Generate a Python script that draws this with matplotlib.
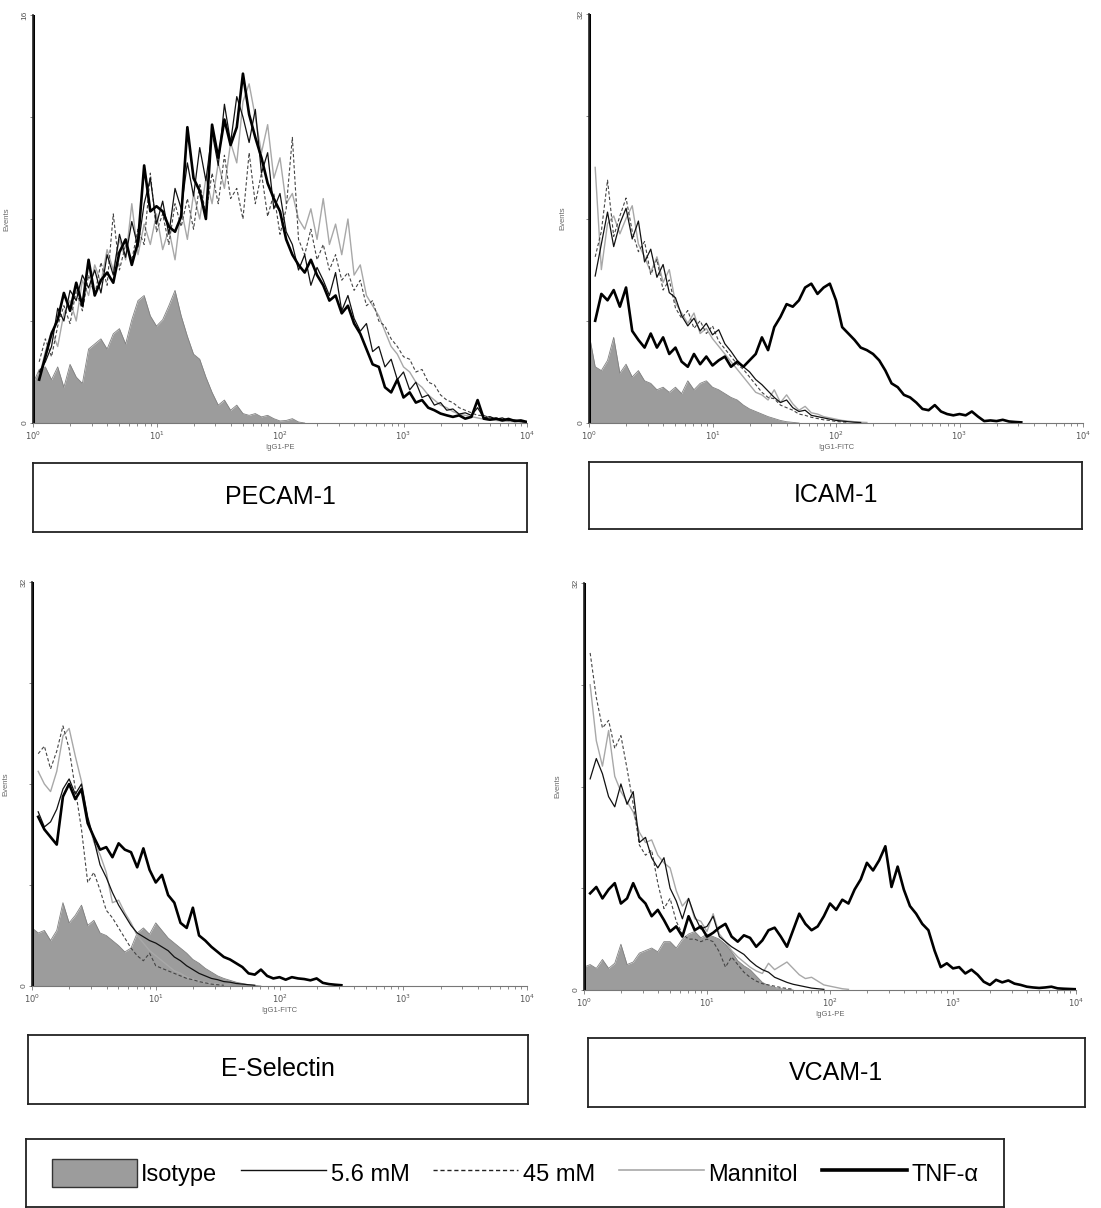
import numpy as np
import matplotlib.pyplot as plt
from matplotlib.patches import Patch
from matplotlib.lines import Line2D

plt.rcParams['font.family'] = ['Liberation Sans', 'DejaVu Sans']

W, H = 1101, 1208
STEP = 0.05  # width of one channel group in log10 units, first group at 10^0

markers = ['PECAM-1', 'ICAM-1', 'E-Selectin', 'VCAM-1']
x_titles = ['IgG1-PE', 'IgG1-FITC', 'IgG1-FITC', 'IgG1-PE']
y_tops = [16, 32, 32, 32]
legend_names = ['Isotype', '5.6 mM', '45 mM', 'Mannitol', 'TNF-\u03b1']

# events per channel group
pecam_iso = [1.55, 2.1, 2.2, 1.7, 2.2, 1.4, 2.3, 1.8, 1.55, 2.9, 3.1, 3.3, 2.9, 3.5, 3.7,
             3.1, 4.05, 4.8, 5.0, 4.2, 3.8, 4.05, 4.6, 5.2, 4.2, 3.4, 2.7, 2.5, 1.8, 1.2,
             0.7, 0.9, 0.5, 0.7, 0.37, 0.3, 0.37, 0.24, 0.3, 0.17, 0.08, 0.1, 0.17, 0.04, 0.0]
pecam_56 = [16, 2.0, 2.4, 3.0, 4.5, 4.0, 5.2, 4.8, 5.8, 5.3, 6.0, 5.1, 6.6, 5.8, 7.4, 6.5,
            7.9, 6.9, 8.6, 9.6, 7.8, 8.7, 7.4, 9.2, 8.4, 10.2, 8.9, 10.8, 9.5, 11.4, 10.1,
            12.5, 11.0, 12.8, 12.0, 11.0, 12.3, 9.8, 10.6, 8.4, 9.0, 7.5, 7.0, 6.0, 6.6,
            5.4, 6.1, 5.6, 5.0, 5.9, 4.4, 5.0, 4.1, 3.6, 3.9, 2.8, 3.0, 2.2, 2.5, 1.7, 2.0,
            1.3, 1.6, 1.0, 1.1, 0.7, 0.8, 0.5, 0.55, 0.35, 0.4, 0.3, 0.6, 0.2, 0.25, 0.15,
            0.2, 0.1, 0.12, 0.05, 0.05]
pecam_45 = [16, 2.4, 3.3, 2.6, 3.8, 4.6, 3.9, 5.2, 4.4, 5.8, 5.0, 6.3, 5.4, 8.2, 6.0, 7.0,
            6.4, 7.6, 7.0, 9.8, 7.5, 8.2, 7.0, 8.6, 7.7, 8.8, 7.6, 9.4, 8.2, 9.8, 8.6, 10.5,
            8.8, 9.2, 8.0, 10.6, 8.6, 9.8, 8.1, 9.0, 7.4, 8.4, 11.2, 7.2, 6.6, 7.6, 6.4, 7.0,
            6.0, 6.6, 5.6, 5.9, 5.2, 5.6, 4.6, 4.8, 4.0, 3.8, 3.3, 3.0, 2.6, 2.5, 2.0, 2.1,
            1.6, 1.5, 1.1, 0.9, 0.8, 0.6, 0.5, 0.4, 0.3, 0.3, 0.2, 0.2, 0.15, 0.1, 0.08,
            0.05, 0.03]
pecam_man = [16, 1.8, 2.8, 3.6, 3.0, 4.3, 4.8, 4.0, 5.6, 5.0, 6.2, 5.5, 6.8, 6.0, 7.2, 6.4,
             8.6, 6.6, 7.8, 7.0, 8.2, 6.8, 7.6, 6.4, 8.4, 7.2, 9.0, 8.0, 9.6, 8.6, 10.2, 9.2,
             11.0, 10.2, 12.6, 13.3, 12.0, 10.6, 11.7, 9.6, 10.4, 8.6, 9.0, 8.0, 7.6, 8.4,
             7.2, 8.8, 7.0, 7.8, 6.6, 8.0, 5.8, 6.2, 5.0, 4.6, 4.2, 3.6, 3.0, 2.7, 2.2, 2.0,
             1.6, 1.4, 1.1, 0.9, 0.7, 0.6, 0.45, 0.35, 0.3, 0.25, 0.2, 0.15, 0.12, 0.1, 0.08,
             0.06, 0.05, 0.04, 0.03]
pecam_tnf = [16, 1.7, 2.6, 3.5, 4.05, 5.1, 4.4, 5.5, 4.6, 6.4, 5.0, 5.6, 5.9, 5.5, 6.7, 7.2,
             6.2, 7.1, 10.1, 8.3, 8.5, 8.3, 7.7, 7.5, 8.1, 11.6, 9.6, 9.1, 8.0, 11.7, 10.4,
             11.9, 10.9, 11.6, 13.7, 12.1, 11.2, 10.4, 9.4, 8.8, 8.3, 7.2, 6.6, 6.2, 5.9,
             6.4, 5.8, 5.4, 4.8, 5.0, 4.3, 4.6, 3.9, 3.5, 2.9, 2.3, 2.2, 1.4, 1.2, 1.7, 1.0,
             1.2, 0.8, 0.9, 0.6, 0.5, 0.37, 0.3, 0.24, 0.3, 0.17, 0.24, 0.9, 0.17, 0.13,
             0.17, 0.1, 0.16, 0.08, 0.1, 0.04]

icam_iso = [7.0, 4.4, 4.1, 4.9, 6.7, 3.9, 4.6, 3.6, 4.1, 3.3, 3.1, 2.6, 2.8, 2.4, 2.8, 2.3,
            3.3, 2.6, 3.1, 3.3, 2.8, 2.6, 2.3, 2.0, 1.8, 1.4, 1.1, 0.9, 0.7, 0.5, 0.35, 0.2,
            0.1, 0.05, 0.0]
icam_56 = [32, 11.5, 14.0, 16.5, 13.8, 15.6, 16.8, 14.4, 15.8, 12.6, 13.6, 11.4, 12.4, 10.2,
           9.8, 8.4, 7.6, 8.2, 7.2, 7.8, 6.9, 7.3, 6.2, 5.6, 4.9, 4.4, 4.0, 3.4, 3.0, 2.5,
           2.0, 1.6, 1.8, 1.2, 0.9, 1.0, 0.6, 0.5, 0.4, 0.3, 0.2, 0.15, 0.1, 0.06, 0.04]
icam_45 = [32, 13.0, 15.0, 19.0, 14.6, 16.2, 17.6, 15.0, 13.4, 14.2, 11.6, 12.8, 10.4, 11.2,
           9.0, 8.2, 8.8, 7.4, 8.0, 7.0, 7.6, 6.4, 5.8, 5.2, 4.6, 4.2, 3.6, 3.0, 2.4, 2.0,
           1.9, 1.4, 1.2, 1.0, 0.7, 0.6, 0.45, 0.35, 0.25, 0.2, 0.12, 0.08, 0.05]
icam_man = [32, 20.0, 12.0, 15.6, 16.2, 14.8, 16.0, 17.0, 14.0, 13.0, 11.8, 13.0, 11.0,
            12.0, 9.4, 8.6, 7.8, 8.6, 7.0, 7.4, 6.6, 6.0, 5.4, 4.8, 4.2, 3.6, 3.0, 2.4, 2.2,
            1.8, 2.6, 1.6, 2.2, 1.5, 1.0, 1.3, 0.8, 0.7, 0.5, 0.4, 0.3, 0.2, 0.15, 0.1, 0.06,
            0.04]
icam_tnf = [32, 8.0, 10.1, 9.6, 10.4, 9.1, 10.6, 7.2, 6.5, 5.9, 7.0, 5.9, 6.7, 5.4, 5.9, 4.8,
            4.4, 5.4, 4.6, 5.2, 4.5, 4.9, 5.2, 4.4, 4.8, 4.4, 4.9, 5.4, 6.7, 5.7, 7.5, 8.3,
            9.3, 9.1, 9.6, 10.6, 10.9, 10.1, 10.6, 10.9, 9.6, 7.5, 7.0, 6.5, 5.9, 5.7, 5.4,
            4.9, 4.1, 3.1, 2.8, 2.2, 2.0, 1.6, 1.1, 1.0, 1.4, 0.9, 0.7, 0.6, 0.7, 0.6, 0.9,
            0.5, 0.15, 0.2, 0.15, 0.25, 0.12, 0.08, 0.05]

esel_iso = [4.6, 4.2, 4.4, 3.6, 4.4, 6.6, 5.0, 5.6, 6.4, 4.8, 5.2, 4.2, 4.0, 3.6, 3.2, 2.7,
            3.0, 4.2, 4.6, 4.1, 5.0, 4.4, 3.8, 3.4, 3.0, 2.6, 2.1, 1.8, 1.4, 1.1, 0.8, 0.6,
            0.45, 0.3, 0.2, 0.1, 0.05, 0.0]
esel_56 = [32, 13.8, 12.6, 13.0, 14.0, 15.6, 16.4, 15.2, 16.0, 13.4, 11.6, 9.6, 8.6, 7.4,
           6.4, 5.6, 4.8, 4.2, 3.9, 3.6, 3.4, 3.1, 2.8, 2.3, 2.0, 1.6, 1.3, 1.0, 0.8, 0.6,
           0.5, 0.35, 0.3, 0.2, 0.15, 0.1, 0.06]
esel_45 = [32, 18.4, 19.0, 17.2, 18.6, 20.6, 18.8, 15.6, 12.4, 8.2, 9.0, 7.6, 6.0, 5.4, 4.6,
           3.8, 3.0, 2.4, 2.0, 2.6, 1.6, 1.4, 1.2, 1.0, 0.8, 0.6, 0.5, 0.35, 0.25, 0.15,
           0.1, 0.06]
esel_man = [32, 17.0, 16.0, 15.4, 17.0, 19.8, 20.4, 18.2, 16.2, 13.2, 11.4, 10.4, 9.0, 6.6,
            6.8, 5.8, 5.0, 4.0, 3.4, 2.8, 2.4, 2.0, 1.6, 1.2, 1.0, 0.7, 0.55, 0.4, 0.3, 0.2,
            0.15, 0.1, 0.06]
esel_tnf = [32, 13.4, 12.4, 11.8, 11.2, 15.0, 16.0, 14.8, 15.6, 12.9, 11.8, 10.8, 11.0,
            10.2, 11.3, 10.8, 10.6, 9.4, 10.9, 9.2, 8.2, 8.8, 7.2, 6.6, 5.0, 4.6, 6.2, 4.0,
            3.6, 3.1, 2.7, 2.3, 2.1, 1.8, 1.5, 1.0, 0.9, 1.3, 0.8, 0.6, 0.7, 0.5, 0.7, 0.6,
            0.55, 0.45, 0.6, 0.25, 0.15, 0.1, 0.06]

vcam_iso = [1.8, 2.0, 1.7, 2.4, 1.7, 2.1, 3.6, 2.0, 2.2, 2.9, 3.1, 3.3, 3.0, 3.8, 3.8, 3.3,
            4.0, 4.4, 4.6, 4.1, 4.4, 4.2, 4.0, 3.6, 3.0, 2.3, 1.9, 1.6, 1.1, 0.6, 0.35, 0.2,
            0.1, 0.05, 0.0]
vcam_56 = [32, 16.6, 18.2, 17.0, 15.2, 14.4, 16.2, 14.6, 15.6, 11.6, 12.0, 10.4, 9.6, 10.4,
           8.0, 7.0, 5.6, 7.2, 5.8, 4.8, 5.0, 5.8, 4.2, 3.8, 3.4, 3.1, 2.8, 2.3, 1.9, 1.6,
           1.4, 1.0, 0.8, 0.6, 0.45, 0.35, 0.25, 0.15, 0.1, 0.05]
vcam_45 = [32, 26.5, 23.0, 20.6, 21.2, 19.0, 20.0, 17.4, 14.6, 11.4, 10.6, 11.0, 8.4, 6.4,
           7.2, 5.4, 4.4, 4.0, 4.0, 3.8, 4.0, 3.8, 3.0, 1.8, 2.6, 2.0, 1.4, 1.0, 0.7, 0.5,
           0.4, 0.3, 0.2, 0.12, 0.06]
vcam_man = [32, 24.0, 19.6, 17.6, 20.4, 16.8, 15.6, 14.8, 14.0, 12.4, 11.6, 11.8, 10.6,
            10.0, 9.6, 7.8, 6.6, 7.2, 5.6, 5.4, 4.6, 6.0, 4.4, 3.8, 3.1, 2.6, 2.2, 1.8, 1.5,
            1.3, 2.1, 1.6, 1.9, 2.2, 1.7, 1.2, 0.9, 1.0, 0.7, 0.4, 0.3, 0.2, 0.1, 0.05]
vcam_tnf = [32, 7.6, 8.1, 7.2, 7.9, 8.4, 6.8, 7.2, 8.4, 7.3, 6.8, 5.8, 6.3, 5.5, 4.6, 5.0,
            4.2, 5.8, 4.7, 5.0, 4.2, 4.5, 4.9, 5.2, 4.2, 3.8, 4.3, 4.1, 3.4, 3.9, 4.7, 4.9,
            4.2, 3.4, 4.7, 6.0, 5.2, 4.7, 5.0, 5.8, 6.8, 6.3, 7.1, 6.8, 7.9, 8.7, 10.0, 9.4,
            10.2, 11.3, 8.1, 9.7, 7.9, 6.6, 6.0, 5.2, 4.7, 3.1, 1.8, 2.1, 1.7, 1.8, 1.3, 1.6,
            1.2, 0.65, 0.4, 0.8, 0.6, 0.75, 0.5, 0.4, 0.26, 0.2, 0.16, 0.2, 0.26, 0.13, 0.1,
            0.08, 0.06]

series = [
    (pecam_iso, pecam_56, pecam_45, pecam_man, pecam_tnf),
    (icam_iso, icam_56, icam_45, icam_man, icam_tnf),
    (esel_iso, esel_56, esel_45, esel_man, esel_tnf),
    (vcam_iso, vcam_56, vcam_45, vcam_man, vcam_tnf),
]

# pixel boxes (left, top, right, bottom)
plot_boxes = [(33, 15, 527, 423), (589, 14, 1083, 423), (32, 582, 527, 986), (584, 583, 1076, 990)]
name_boxes = [(33, 463, 527, 532), (589, 462, 1082, 529), (28, 1035, 528, 1104), (588, 1038, 1085, 1107)]
legend_box = (26, 1139, 1004, 1207)

iso_color = '#9c9c9c'
man_color = '#a8a8a8'
line_styles = [
    dict(color='#111111', lw=0.9),                  # 5.6 mM
    dict(color='#444444', lw=0.8, ls=(0, (3, 2))),  # 45 mM
    dict(color=man_color, lw=1.0),                  # Mannitol
    dict(color='black', lw=1.9),                    # TNF-a
]


def box_axes(fig, b):
    l, t, r, bt = b
    return fig.add_axes([l / W, 1 - bt / H, (r - l) / W, (bt - t) / H])


def channels(vals):
    return 10 ** (STEP * np.arange(len(vals)))


fig = plt.figure(figsize=(W / 100, H / 100), dpi=100)

for k in range(4):
    ax = box_axes(fig, plot_boxes[k])
    iso, c56, c45, man, tnf = series[k]

    x = channels(iso)
    ax.fill_between(x, iso, color=iso_color, lw=0)
    ax.plot(x, iso, color='#808080', lw=0.6)
    # draw order: mannitol, 45 mM, 5.6 mM, TNF on top
    for vals, st in [(man, line_styles[2]), (c45, line_styles[1]),
                     (c56, line_styles[0]), (tnf, line_styles[3])]:
        x = channels(vals)
        # first channel collects the off-scale events: a bar on the axis
        ax.vlines(x[0], 0, vals[0], color=st['color'], lw=st['lw'] + 1.0)
        ax.plot(x[1:], vals[1:], **st)

    top = y_tops[k]
    ax.set_xscale('log')
    ax.set_xlim(1, 1e4)
    ax.set_ylim(0, top)
    ax.set_xticks([1, 10, 100, 1000, 10000])
    ax.set_xticklabels(['$10^0$', '$10^1$', '$10^2$', '$10^3$', '$10^4$'])
    ax.set_yticks(np.linspace(0, top, 5))
    ax.set_yticklabels(['0', '', '', '', str(top)], rotation=90, va='center')
    ax.tick_params(axis='both', which='both', direction='out', color='#777777',
                   labelsize=6, labelcolor='#555555', width=0.6)
    ax.tick_params(axis='x', which='major', length=3, pad=2)
    ax.tick_params(axis='x', which='minor', length=2)
    ax.tick_params(axis='y', length=2, pad=1)
    ax.set_xlabel(x_titles[k], fontsize=5.5, color='#666666', labelpad=1)
    ax.set_ylabel('Events', fontsize=5.5, color='#666666', labelpad=8)
    ax.spines['top'].set_visible(False)
    ax.spines['right'].set_visible(False)
    ax.spines['left'].set_color('#222222')
    ax.spines['left'].set_linewidth(1.2)
    ax.spines['bottom'].set_color('#777777')
    ax.spines['bottom'].set_linewidth(0.8)

    nb = box_axes(fig, name_boxes[k])
    nb.set_xticks([])
    nb.set_yticks([])
    for s in nb.spines.values():
        s.set_linewidth(1.3)
        s.set_color('#222222')
    nb.text(0.5, 0.5, markers[k], ha='center', va='center', fontsize=18,
            transform=nb.transAxes)

lg = box_axes(fig, legend_box)
lg.set_xticks([])
lg.set_yticks([])
for s in lg.spines.values():
    s.set_linewidth(1.3)
    s.set_color('#222222')
handles = [
    Patch(facecolor=iso_color, edgecolor='#333333', lw=1.0),
    Line2D([], [], color='#111111', lw=1.0),
    Line2D([], [], color='#222222', lw=1.0, ls=(0, (3, 2))),
    Line2D([], [], color=man_color, lw=1.2),
    Line2D([], [], color='black', lw=2.6),
]
lg.legend(handles, legend_names, loc='center', ncol=5, frameon=False, fontsize=17,
          handlelength=3.6, handleheight=1.5, handletextpad=0.2, columnspacing=1.0,
          borderpad=0)

fig.savefig('out.png', dpi=100)
